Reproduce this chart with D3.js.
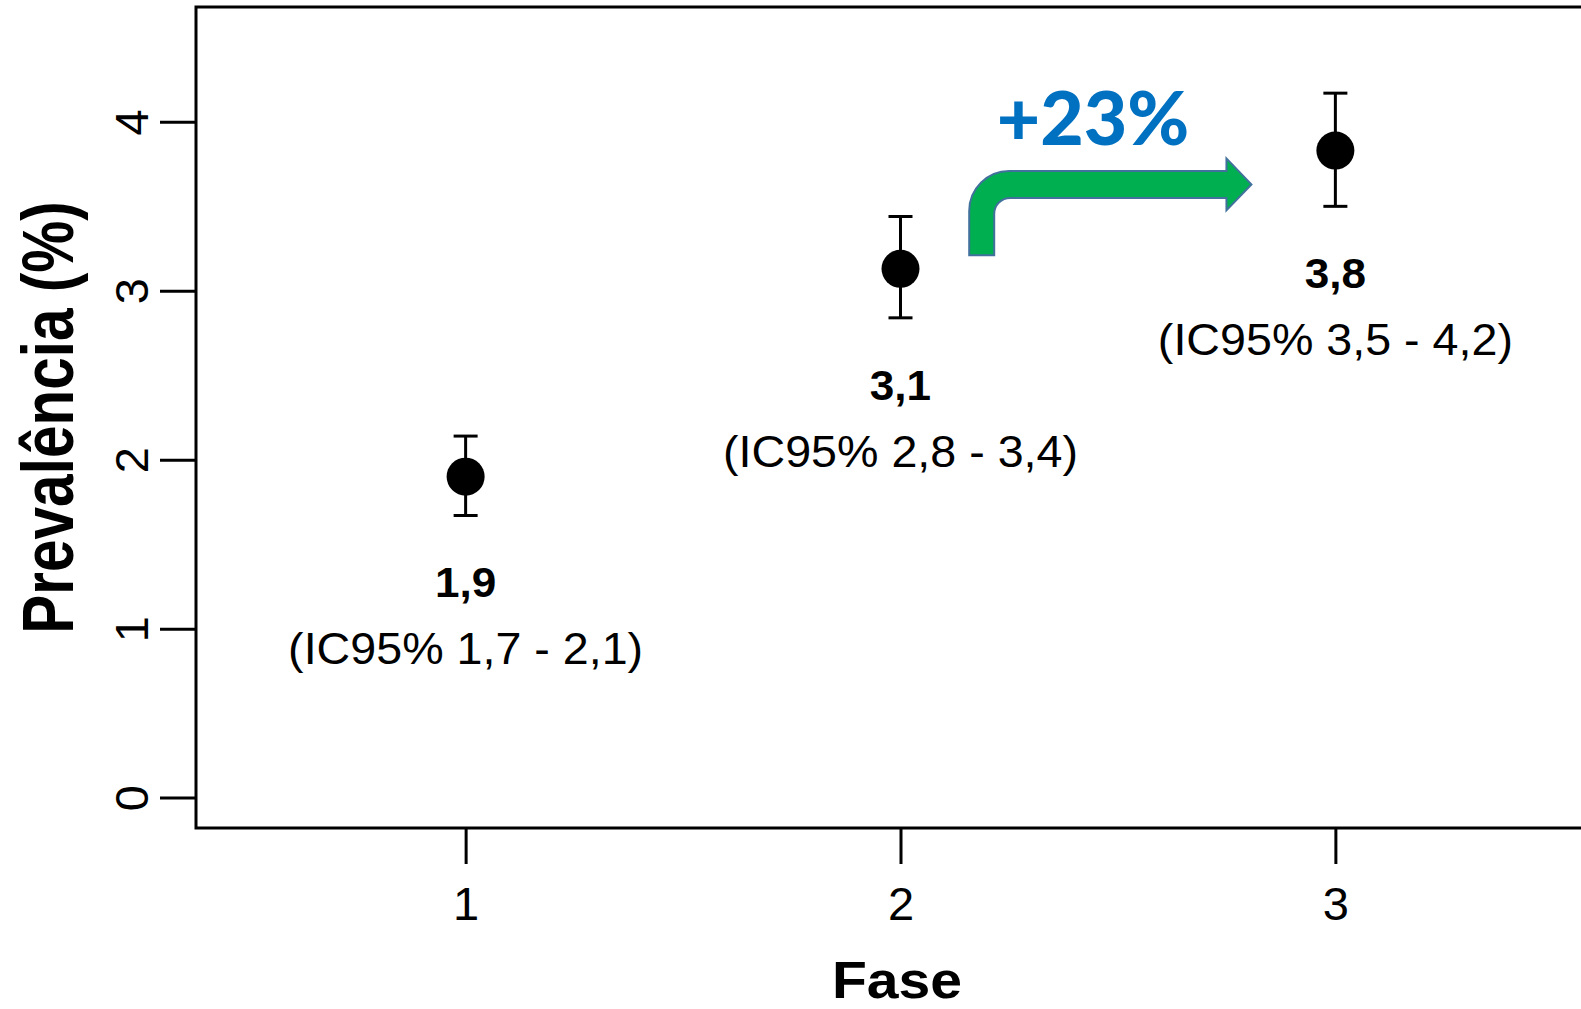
<!DOCTYPE html>
<html>
<head>
<meta charset="utf-8">
<script src="https://cdn.jsdelivr.net/npm/d3@7/dist/d3.min.js"></script>
<style>
  html, body { margin: 0; padding: 0; background: #fff; }
  svg { display: block; }
</style>
</head>
<body>
<script>
// Prevalence by study phase, with 95% confidence intervals
const fases = [1, 2, 3];
const prevalencia = [1.90, 3.13, 3.83];
const icInferior = [1.67, 2.84, 3.50];
const icSuperior = [2.14, 3.44, 4.17];
const icRotulos = ["(IC95% 1,7 - 2,1)", "(IC95% 2,8 - 3,4)", "(IC95% 3,5 - 4,2)"];
const yTicks = [0, 1, 2, 3, 4];
const xTicks = [1, 2, 3];
const variacao = "+23%";

const W = 1581, H = 1009;
const font = "'Liberation Sans', Arial, Helvetica, sans-serif";

const svg = d3.select("body").append("svg")
  .attr("width", W).attr("height", H);

// Plot region (the right edge runs past the canvas)
const plotL = 196, plotT = 7, plotR = 1605, plotB = 828;

const x = d3.scaleLinear().domain([0.38, 3.62]).range([plotL, plotR]);
const y = d3.scaleLinear().domain([-0.18, 4.68]).range([plotB, plotT]);

const fmt = v => d3.format(".1f")(v).replace(".", ",");

// Box around the plot
svg.append("rect")
  .attr("x", plotL).attr("y", plotT)
  .attr("width", plotR - plotL).attr("height", plotB - plotT)
  .attr("fill", "none").attr("stroke", "#000").attr("stroke-width", 3);

// Y axis
const yAxis = svg.append("g")
  .attr("transform", `translate(${plotL},0)`)
  .call(d3.axisLeft(y).tickValues(yTicks).tickSize(36).tickFormat(d3.format("d")));
yAxis.select(".domain").remove();
yAxis.selectAll(".tick line").attr("stroke", "#000").attr("stroke-width", 3);
yAxis.selectAll(".tick text")
  .attr("font-family", font).attr("font-size", 47).attr("fill", "#000")
  .attr("text-anchor", "middle")
  .attr("x", 0).attr("dy", null).attr("y", 0)
  .attr("transform", "translate(-48,0) rotate(-90)");

// X axis
const xAxis = svg.append("g")
  .attr("transform", `translate(0,${plotB})`)
  .call(d3.axisBottom(x).tickValues(xTicks).tickSize(36).tickFormat(d3.format("d")));
xAxis.select(".domain").remove();
xAxis.selectAll(".tick line").attr("stroke", "#000").attr("stroke-width", 3);
xAxis.selectAll(".tick text")
  .attr("font-family", font).attr("font-size", 47).attr("fill", "#000")
  .attr("dy", null).attr("y", 92);

// Axis titles
svg.append("text")
  .attr("transform", `translate(897,998) scale(1.12,1)`)
  .attr("text-anchor", "middle")
  .attr("font-family", font).attr("font-weight", "bold").attr("font-size", 51)
  .text("Fase");

svg.append("text")
  .attr("transform", `translate(73,${(plotT + plotB) / 2}) rotate(-90) scale(1,1.22)`)
  .attr("text-anchor", "middle")
  .attr("font-family", font).attr("font-weight", "bold").attr("font-size", 58.5)
  .text("Prevalência (%)");

// Points with error bars
const pts = fases.map((f, i) => ({
  f, v: prevalencia[i], lo: icInferior[i], hi: icSuperior[i], ic: icRotulos[i]
}));

const g = svg.append("g");
const capW = 12;
const eb = g.selectAll("g.eb").data(pts).join("g").attr("class", "eb");
eb.append("line")
  .attr("x1", d => x(d.f)).attr("x2", d => x(d.f))
  .attr("y1", d => y(d.lo)).attr("y2", d => y(d.hi))
  .attr("stroke", "#000").attr("stroke-width", 3);
eb.append("line")
  .attr("x1", d => x(d.f) - capW).attr("x2", d => x(d.f) + capW)
  .attr("y1", d => y(d.hi)).attr("y2", d => y(d.hi))
  .attr("stroke", "#000").attr("stroke-width", 3);
eb.append("line")
  .attr("x1", d => x(d.f) - capW).attr("x2", d => x(d.f) + capW)
  .attr("y1", d => y(d.lo)).attr("y2", d => y(d.lo))
  .attr("stroke", "#000").attr("stroke-width", 3);
eb.append("circle")
  .attr("cx", d => x(d.f)).attr("cy", d => y(d.v)).attr("r", 19)
  .attr("fill", "#000");

// Value and confidence interval labels under each point
eb.append("text")
  .attr("transform", d => `translate(${x(d.f)},${y(d.lo) + 82}) scale(1.05,1)`)
  .attr("text-anchor", "middle")
  .attr("font-family", font).attr("font-weight", "bold").attr("font-size", 42)
  .text(d => fmt(d.v));
eb.append("text")
  .attr("transform", d => `translate(${x(d.f)},${y(d.lo) + 149}) scale(1.06,1)`)
  .attr("text-anchor", "middle")
  .attr("font-family", font).attr("font-size", 44)
  .text(d => d.ic);

// Bent arrow between phase 2 and phase 3
const a0 = { x: x(2.158), y: y(3.21) };   // foot of the stem
const tip = { x: x(2.807), y: y(3.63) };  // arrow tip
const stem = 25, bar = 27, headHalf = 26, headLen = 25, ro = 40, ri = 16;
const L = a0.x, R = a0.x + stem, B = a0.y;
const T = tip.y - bar / 2, Bb = tip.y + bar / 2, Hx = tip.x - headLen;
const arrow = d3.path();
arrow.moveTo(L, B);
arrow.lineTo(L, T + ro);
arrow.arcTo(L, T, L + ro, T, ro);
arrow.lineTo(Hx, T);
arrow.lineTo(Hx, tip.y - headHalf);
arrow.lineTo(tip.x, tip.y);
arrow.lineTo(Hx, tip.y + headHalf);
arrow.lineTo(Hx, Bb);
arrow.lineTo(R + ri, Bb);
arrow.arcTo(R, Bb, R, Bb + ri, ri);
arrow.lineTo(R, B);
arrow.closePath();
svg.append("path")
  .attr("d", arrow.toString())
  .attr("fill", "#00B050")
  .attr("stroke", "#41719C").attr("stroke-width", 2)
  .attr("stroke-linejoin", "miter");

svg.append("text")
  .attr("x", 1093).attr("y", 145)
  .attr("text-anchor", "middle")
  .attr("font-family", "Lato, 'Open Sans', sans-serif").attr("font-weight", 900)
  .attr("font-size", 75).attr("fill", "#0070C0")
  .text(variacao);
</script>
</body>
</html>
